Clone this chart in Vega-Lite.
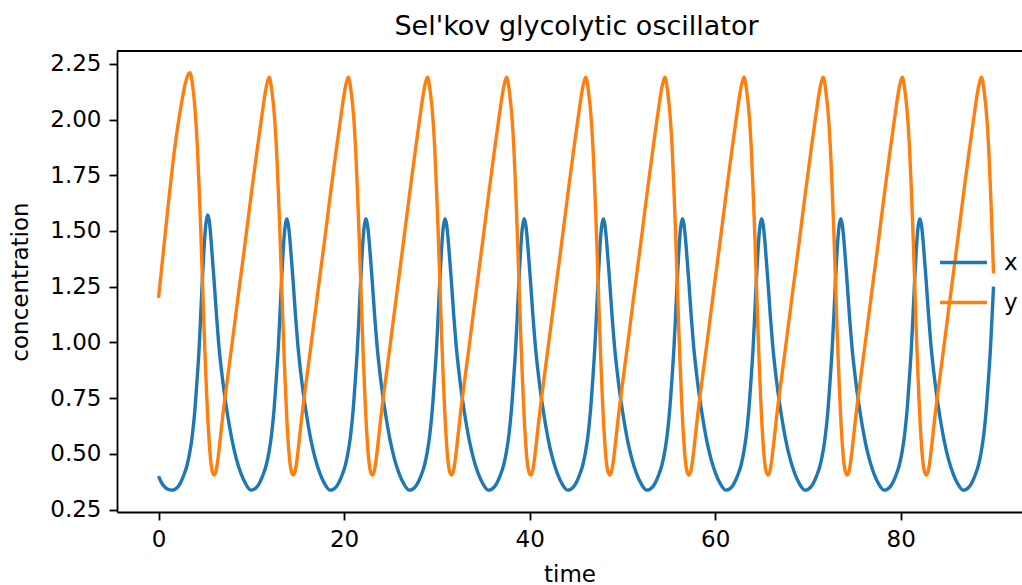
{
"$schema": "https://vega.github.io/schema/vega-lite/v6.json",
"width": 905, "height": 461,
"autosize": {"type": "none"},
"padding": {"left": 117, "top": 51, "right": 0, "bottom": 73},
"title": {"text": "Sel'kov glycolytic oscillator", "font": "DejaVu Sans", "fontSize": 27, "fontWeight": "normal", "color": "#000", "anchor": "middle", "dx": 7, "offset": 9},
"datasets": {
"xs": [
{"t":0,"v":0.40},{"t":0.3,"v":0.372},{"t":0.7,"v":0.35},{"t":1.0,"v":0.341},
{"t":1.44,"v":0.337},{"t":2.08,"v":0.352},{"t":2.68,"v":0.40},{"t":3.08,"v":0.45},{"t":3.38,"v":0.51},{"t":3.63,"v":0.58},{"t":3.88,"v":0.68},{"t":4.13,"v":0.82},{"t":4.38,"v":0.98},{"t":4.56,"v":1.14},{"t":4.73,"v":1.29},{"t":4.9,"v":1.42},{"t":5.08,"v":1.525},{"t":5.28,"v":1.572},{"t":5.45,"v":1.55},{"t":5.63,"v":1.475},{"t":5.78,"v":1.39},{"t":5.98,"v":1.28},{"t":6.23,"v":1.13},{"t":6.48,"v":0.995},{"t":6.78,"v":0.875},{"t":7.08,"v":0.775},{"t":7.38,"v":0.69},{"t":7.88,"v":0.57},{"t":8.38,"v":0.478},{"t":8.88,"v":0.412},{"t":9.38,"v":0.366},
{"t":9.97,"v":0.337},{"t":10.61,"v":0.352},{"t":11.21,"v":0.40},{"t":11.61,"v":0.45},{"t":11.91,"v":0.51},{"t":12.16,"v":0.58},{"t":12.41,"v":0.68},{"t":12.66,"v":0.82},{"t":12.91,"v":0.98},{"t":13.09,"v":1.13},{"t":13.26,"v":1.28},{"t":13.43,"v":1.41},{"t":13.61,"v":1.51},{"t":13.81,"v":1.555},{"t":13.98,"v":1.53},{"t":14.16,"v":1.46},{"t":14.31,"v":1.38},{"t":14.51,"v":1.27},{"t":14.76,"v":1.12},{"t":15.01,"v":0.99},{"t":15.31,"v":0.87},{"t":15.61,"v":0.77},{"t":15.91,"v":0.685},{"t":16.41,"v":0.565},{"t":16.91,"v":0.475},{"t":17.41,"v":0.41},{"t":17.91,"v":0.365},
{"t":18.5,"v":0.337},{"t":19.14,"v":0.352},{"t":19.74,"v":0.40},{"t":20.14,"v":0.45},{"t":20.44,"v":0.51},{"t":20.69,"v":0.58},{"t":20.94,"v":0.68},{"t":21.19,"v":0.82},{"t":21.44,"v":0.98},{"t":21.62,"v":1.13},{"t":21.79,"v":1.28},{"t":21.96,"v":1.41},{"t":22.14,"v":1.51},{"t":22.34,"v":1.555},{"t":22.51,"v":1.53},{"t":22.69,"v":1.46},{"t":22.84,"v":1.38},{"t":23.04,"v":1.27},{"t":23.29,"v":1.12},{"t":23.54,"v":0.99},{"t":23.84,"v":0.87},{"t":24.14,"v":0.77},{"t":24.44,"v":0.685},{"t":24.94,"v":0.565},{"t":25.44,"v":0.475},{"t":25.94,"v":0.41},{"t":26.44,"v":0.365},
{"t":27.03,"v":0.337},{"t":27.67,"v":0.352},{"t":28.27,"v":0.40},{"t":28.67,"v":0.45},{"t":28.97,"v":0.51},{"t":29.22,"v":0.58},{"t":29.47,"v":0.68},{"t":29.72,"v":0.82},{"t":29.97,"v":0.98},{"t":30.15,"v":1.13},{"t":30.32,"v":1.28},{"t":30.49,"v":1.41},{"t":30.67,"v":1.51},{"t":30.87,"v":1.555},{"t":31.04,"v":1.53},{"t":31.22,"v":1.46},{"t":31.37,"v":1.38},{"t":31.57,"v":1.27},{"t":31.82,"v":1.12},{"t":32.07,"v":0.99},{"t":32.37,"v":0.87},{"t":32.67,"v":0.77},{"t":32.97,"v":0.685},{"t":33.47,"v":0.565},{"t":33.97,"v":0.475},{"t":34.47,"v":0.41},{"t":34.97,"v":0.365},
{"t":35.56,"v":0.337},{"t":36.2,"v":0.352},{"t":36.8,"v":0.40},{"t":37.2,"v":0.45},{"t":37.5,"v":0.51},{"t":37.75,"v":0.58},{"t":38.0,"v":0.68},{"t":38.25,"v":0.82},{"t":38.5,"v":0.98},{"t":38.68,"v":1.13},{"t":38.85,"v":1.28},{"t":39.02,"v":1.41},{"t":39.2,"v":1.51},{"t":39.4,"v":1.555},{"t":39.57,"v":1.53},{"t":39.75,"v":1.46},{"t":39.9,"v":1.38},{"t":40.1,"v":1.27},{"t":40.35,"v":1.12},{"t":40.6,"v":0.99},{"t":40.9,"v":0.87},{"t":41.2,"v":0.77},{"t":41.5,"v":0.685},{"t":42.0,"v":0.565},{"t":42.5,"v":0.475},{"t":43.0,"v":0.41},{"t":43.5,"v":0.365},
{"t":44.09,"v":0.337},{"t":44.73,"v":0.352},{"t":45.33,"v":0.40},{"t":45.73,"v":0.45},{"t":46.03,"v":0.51},{"t":46.28,"v":0.58},{"t":46.53,"v":0.68},{"t":46.78,"v":0.82},{"t":47.03,"v":0.98},{"t":47.21,"v":1.13},{"t":47.38,"v":1.28},{"t":47.55,"v":1.41},{"t":47.73,"v":1.51},{"t":47.93,"v":1.555},{"t":48.1,"v":1.53},{"t":48.28,"v":1.46},{"t":48.43,"v":1.38},{"t":48.63,"v":1.27},{"t":48.88,"v":1.12},{"t":49.13,"v":0.99},{"t":49.43,"v":0.87},{"t":49.73,"v":0.77},{"t":50.03,"v":0.685},{"t":50.53,"v":0.565},{"t":51.03,"v":0.475},{"t":51.53,"v":0.41},{"t":52.03,"v":0.365},
{"t":52.62,"v":0.337},{"t":53.26,"v":0.352},{"t":53.86,"v":0.40},{"t":54.26,"v":0.45},{"t":54.56,"v":0.51},{"t":54.81,"v":0.58},{"t":55.06,"v":0.68},{"t":55.31,"v":0.82},{"t":55.56,"v":0.98},{"t":55.74,"v":1.13},{"t":55.91,"v":1.28},{"t":56.08,"v":1.41},{"t":56.26,"v":1.51},{"t":56.46,"v":1.555},{"t":56.63,"v":1.53},{"t":56.81,"v":1.46},{"t":56.96,"v":1.38},{"t":57.16,"v":1.27},{"t":57.41,"v":1.12},{"t":57.66,"v":0.99},{"t":57.96,"v":0.87},{"t":58.26,"v":0.77},{"t":58.56,"v":0.685},{"t":59.06,"v":0.565},{"t":59.56,"v":0.475},{"t":60.06,"v":0.41},{"t":60.56,"v":0.365},
{"t":61.15,"v":0.337},{"t":61.79,"v":0.352},{"t":62.39,"v":0.40},{"t":62.79,"v":0.45},{"t":63.09,"v":0.51},{"t":63.34,"v":0.58},{"t":63.59,"v":0.68},{"t":63.84,"v":0.82},{"t":64.09,"v":0.98},{"t":64.27,"v":1.13},{"t":64.44,"v":1.28},{"t":64.61,"v":1.41},{"t":64.79,"v":1.51},{"t":64.99,"v":1.555},{"t":65.16,"v":1.53},{"t":65.34,"v":1.46},{"t":65.49,"v":1.38},{"t":65.69,"v":1.27},{"t":65.94,"v":1.12},{"t":66.19,"v":0.99},{"t":66.49,"v":0.87},{"t":66.79,"v":0.77},{"t":67.09,"v":0.685},{"t":67.59,"v":0.565},{"t":68.09,"v":0.475},{"t":68.59,"v":0.41},{"t":69.09,"v":0.365},
{"t":69.68,"v":0.337},{"t":70.32,"v":0.352},{"t":70.92,"v":0.40},{"t":71.32,"v":0.45},{"t":71.62,"v":0.51},{"t":71.87,"v":0.58},{"t":72.12,"v":0.68},{"t":72.37,"v":0.82},{"t":72.62,"v":0.98},{"t":72.8,"v":1.13},{"t":72.97,"v":1.28},{"t":73.14,"v":1.41},{"t":73.32,"v":1.51},{"t":73.52,"v":1.555},{"t":73.69,"v":1.53},{"t":73.87,"v":1.46},{"t":74.02,"v":1.38},{"t":74.22,"v":1.27},{"t":74.47,"v":1.12},{"t":74.72,"v":0.99},{"t":75.02,"v":0.87},{"t":75.32,"v":0.77},{"t":75.62,"v":0.685},{"t":76.12,"v":0.565},{"t":76.62,"v":0.475},{"t":77.12,"v":0.41},{"t":77.62,"v":0.365},
{"t":78.21,"v":0.337},{"t":78.85,"v":0.352},{"t":79.45,"v":0.40},{"t":79.85,"v":0.45},{"t":80.15,"v":0.51},{"t":80.4,"v":0.58},{"t":80.65,"v":0.68},{"t":80.9,"v":0.82},{"t":81.15,"v":0.98},{"t":81.33,"v":1.13},{"t":81.5,"v":1.28},{"t":81.67,"v":1.41},{"t":81.85,"v":1.51},{"t":82.05,"v":1.555},{"t":82.22,"v":1.53},{"t":82.4,"v":1.46},{"t":82.55,"v":1.38},{"t":82.75,"v":1.27},{"t":83.0,"v":1.12},{"t":83.25,"v":0.99},{"t":83.55,"v":0.87},{"t":83.85,"v":0.77},{"t":84.15,"v":0.685},{"t":84.65,"v":0.565},{"t":85.15,"v":0.475},{"t":85.65,"v":0.41},{"t":86.15,"v":0.365},
{"t":86.74,"v":0.337},{"t":87.38,"v":0.352},{"t":87.98,"v":0.40},{"t":88.38,"v":0.45},{"t":88.68,"v":0.51},{"t":88.93,"v":0.58},{"t":89.18,"v":0.68},{"t":89.43,"v":0.82},{"t":89.68,"v":0.98},{"t":89.86,"v":1.13},{"t":90.0,"v":1.25}
],
"ys": [
{"t":0,"v":1.2},{"t":0.5,"v":1.40},{"t":1.0,"v":1.60},{"t":1.5,"v":1.79},{"t":2.0,"v":1.95},{"t":2.5,"v":2.08},{"t":2.9,"v":2.165},{"t":3.15,"v":2.198},{"t":3.38,"v":2.21},{"t":3.68,"v":2.15},{"t":4.01,"v":2.0},{"t":4.18,"v":1.88},{"t":4.37,"v":1.70},{"t":4.56,"v":1.49},{"t":4.73,"v":1.28},{"t":4.88,"v":1.09},{"t":5.03,"v":0.92},{"t":5.18,"v":0.77},{"t":5.33,"v":0.64},{"t":5.48,"v":0.54},{"t":5.63,"v":0.465},{"t":5.83,"v":0.415},{"t":6.0,"v":0.405},{"t":6.18,"v":0.42},{"t":6.38,"v":0.47},{"t":6.63,"v":0.56},{"t":6.92,"v":0.67},{"t":7.28,"v":0.79},{"t":7.88,"v":0.98},{"t":8.68,"v":1.24},{"t":9.28,"v":1.43},{"t":10.04,"v":1.68},{"t":10.58,"v":1.85},{"t":11.01,"v":1.98},{"t":11.28,"v":2.06},{"t":11.58,"v":2.14},{"t":11.78,"v":2.175},
{"t":11.93,"v":2.19},{"t":12.21,"v":2.13},{"t":12.54,"v":1.99},{"t":12.71,"v":1.87},{"t":12.9,"v":1.69},{"t":13.09,"v":1.48},{"t":13.26,"v":1.27},{"t":13.41,"v":1.08},{"t":13.56,"v":0.91},{"t":13.71,"v":0.76},{"t":13.86,"v":0.63},{"t":14.01,"v":0.53},{"t":14.16,"v":0.46},{"t":14.36,"v":0.415},{"t":14.53,"v":0.405},{"t":14.71,"v":0.42},{"t":14.91,"v":0.47},{"t":15.16,"v":0.56},{"t":15.45,"v":0.67},{"t":15.81,"v":0.79},{"t":16.41,"v":0.98},{"t":17.21,"v":1.24},{"t":17.81,"v":1.43},{"t":18.57,"v":1.68},{"t":19.11,"v":1.85},{"t":19.54,"v":1.98},{"t":19.81,"v":2.06},{"t":20.11,"v":2.14},{"t":20.31,"v":2.175},
{"t":20.46,"v":2.19},{"t":20.74,"v":2.13},{"t":21.07,"v":1.99},{"t":21.24,"v":1.87},{"t":21.43,"v":1.69},{"t":21.62,"v":1.48},{"t":21.79,"v":1.27},{"t":21.94,"v":1.08},{"t":22.09,"v":0.91},{"t":22.24,"v":0.76},{"t":22.39,"v":0.63},{"t":22.54,"v":0.53},{"t":22.69,"v":0.46},{"t":22.89,"v":0.415},{"t":23.06,"v":0.405},{"t":23.24,"v":0.42},{"t":23.44,"v":0.47},{"t":23.69,"v":0.56},{"t":23.98,"v":0.67},{"t":24.34,"v":0.79},{"t":24.94,"v":0.98},{"t":25.74,"v":1.24},{"t":26.34,"v":1.43},{"t":27.1,"v":1.68},{"t":27.64,"v":1.85},{"t":28.07,"v":1.98},{"t":28.34,"v":2.06},{"t":28.64,"v":2.14},{"t":28.84,"v":2.175},
{"t":28.99,"v":2.19},{"t":29.27,"v":2.13},{"t":29.6,"v":1.99},{"t":29.77,"v":1.87},{"t":29.96,"v":1.69},{"t":30.15,"v":1.48},{"t":30.32,"v":1.27},{"t":30.47,"v":1.08},{"t":30.62,"v":0.91},{"t":30.77,"v":0.76},{"t":30.92,"v":0.63},{"t":31.07,"v":0.53},{"t":31.22,"v":0.46},{"t":31.42,"v":0.415},{"t":31.59,"v":0.405},{"t":31.77,"v":0.42},{"t":31.97,"v":0.47},{"t":32.22,"v":0.56},{"t":32.51,"v":0.67},{"t":32.87,"v":0.79},{"t":33.47,"v":0.98},{"t":34.27,"v":1.24},{"t":34.87,"v":1.43},{"t":35.63,"v":1.68},{"t":36.17,"v":1.85},{"t":36.6,"v":1.98},{"t":36.87,"v":2.06},{"t":37.17,"v":2.14},{"t":37.37,"v":2.175},
{"t":37.52,"v":2.19},{"t":37.8,"v":2.13},{"t":38.13,"v":1.99},{"t":38.3,"v":1.87},{"t":38.49,"v":1.69},{"t":38.68,"v":1.48},{"t":38.85,"v":1.27},{"t":39.0,"v":1.08},{"t":39.15,"v":0.91},{"t":39.3,"v":0.76},{"t":39.45,"v":0.63},{"t":39.6,"v":0.53},{"t":39.75,"v":0.46},{"t":39.95,"v":0.415},{"t":40.12,"v":0.405},{"t":40.3,"v":0.42},{"t":40.5,"v":0.47},{"t":40.75,"v":0.56},{"t":41.04,"v":0.67},{"t":41.4,"v":0.79},{"t":42.0,"v":0.98},{"t":42.8,"v":1.24},{"t":43.4,"v":1.43},{"t":44.16,"v":1.68},{"t":44.7,"v":1.85},{"t":45.13,"v":1.98},{"t":45.4,"v":2.06},{"t":45.7,"v":2.14},{"t":45.9,"v":2.175},
{"t":46.05,"v":2.19},{"t":46.33,"v":2.13},{"t":46.66,"v":1.99},{"t":46.83,"v":1.87},{"t":47.02,"v":1.69},{"t":47.21,"v":1.48},{"t":47.38,"v":1.27},{"t":47.53,"v":1.08},{"t":47.68,"v":0.91},{"t":47.83,"v":0.76},{"t":47.98,"v":0.63},{"t":48.13,"v":0.53},{"t":48.28,"v":0.46},{"t":48.48,"v":0.415},{"t":48.65,"v":0.405},{"t":48.83,"v":0.42},{"t":49.03,"v":0.47},{"t":49.28,"v":0.56},{"t":49.57,"v":0.67},{"t":49.93,"v":0.79},{"t":50.53,"v":0.98},{"t":51.33,"v":1.24},{"t":51.93,"v":1.43},{"t":52.69,"v":1.68},{"t":53.23,"v":1.85},{"t":53.66,"v":1.98},{"t":53.93,"v":2.06},{"t":54.23,"v":2.14},{"t":54.43,"v":2.175},
{"t":54.58,"v":2.19},{"t":54.86,"v":2.13},{"t":55.19,"v":1.99},{"t":55.36,"v":1.87},{"t":55.55,"v":1.69},{"t":55.74,"v":1.48},{"t":55.91,"v":1.27},{"t":56.06,"v":1.08},{"t":56.21,"v":0.91},{"t":56.36,"v":0.76},{"t":56.51,"v":0.63},{"t":56.66,"v":0.53},{"t":56.81,"v":0.46},{"t":57.01,"v":0.415},{"t":57.18,"v":0.405},{"t":57.36,"v":0.42},{"t":57.56,"v":0.47},{"t":57.81,"v":0.56},{"t":58.1,"v":0.67},{"t":58.46,"v":0.79},{"t":59.06,"v":0.98},{"t":59.86,"v":1.24},{"t":60.46,"v":1.43},{"t":61.22,"v":1.68},{"t":61.76,"v":1.85},{"t":62.19,"v":1.98},{"t":62.46,"v":2.06},{"t":62.76,"v":2.14},{"t":62.96,"v":2.175},
{"t":63.11,"v":2.19},{"t":63.39,"v":2.13},{"t":63.72,"v":1.99},{"t":63.89,"v":1.87},{"t":64.08,"v":1.69},{"t":64.27,"v":1.48},{"t":64.44,"v":1.27},{"t":64.59,"v":1.08},{"t":64.74,"v":0.91},{"t":64.89,"v":0.76},{"t":65.04,"v":0.63},{"t":65.19,"v":0.53},{"t":65.34,"v":0.46},{"t":65.54,"v":0.415},{"t":65.71,"v":0.405},{"t":65.89,"v":0.42},{"t":66.09,"v":0.47},{"t":66.34,"v":0.56},{"t":66.63,"v":0.67},{"t":66.99,"v":0.79},{"t":67.59,"v":0.98},{"t":68.39,"v":1.24},{"t":68.99,"v":1.43},{"t":69.75,"v":1.68},{"t":70.29,"v":1.85},{"t":70.72,"v":1.98},{"t":70.99,"v":2.06},{"t":71.29,"v":2.14},{"t":71.49,"v":2.175},
{"t":71.64,"v":2.19},{"t":71.92,"v":2.13},{"t":72.25,"v":1.99},{"t":72.42,"v":1.87},{"t":72.61,"v":1.69},{"t":72.8,"v":1.48},{"t":72.97,"v":1.27},{"t":73.12,"v":1.08},{"t":73.27,"v":0.91},{"t":73.42,"v":0.76},{"t":73.57,"v":0.63},{"t":73.72,"v":0.53},{"t":73.87,"v":0.46},{"t":74.07,"v":0.415},{"t":74.24,"v":0.405},{"t":74.42,"v":0.42},{"t":74.62,"v":0.47},{"t":74.87,"v":0.56},{"t":75.16,"v":0.67},{"t":75.52,"v":0.79},{"t":76.12,"v":0.98},{"t":76.92,"v":1.24},{"t":77.52,"v":1.43},{"t":78.28,"v":1.68},{"t":78.82,"v":1.85},{"t":79.25,"v":1.98},{"t":79.52,"v":2.06},{"t":79.82,"v":2.14},{"t":80.02,"v":2.175},
{"t":80.17,"v":2.19},{"t":80.45,"v":2.13},{"t":80.78,"v":1.99},{"t":80.95,"v":1.87},{"t":81.14,"v":1.69},{"t":81.33,"v":1.48},{"t":81.5,"v":1.27},{"t":81.65,"v":1.08},{"t":81.8,"v":0.91},{"t":81.95,"v":0.76},{"t":82.1,"v":0.63},{"t":82.25,"v":0.53},{"t":82.4,"v":0.46},{"t":82.6,"v":0.415},{"t":82.77,"v":0.405},{"t":82.95,"v":0.42},{"t":83.15,"v":0.47},{"t":83.4,"v":0.56},{"t":83.69,"v":0.67},{"t":84.05,"v":0.79},{"t":84.65,"v":0.98},{"t":85.45,"v":1.24},{"t":86.05,"v":1.43},{"t":86.81,"v":1.68},{"t":87.35,"v":1.85},{"t":87.78,"v":1.98},{"t":88.05,"v":2.06},{"t":88.35,"v":2.14},{"t":88.55,"v":2.175},
{"t":88.7,"v":2.19},{"t":88.98,"v":2.13},{"t":89.31,"v":1.99},{"t":89.48,"v":1.87},{"t":89.67,"v":1.69},{"t":89.86,"v":1.48},{"t":90.0,"v":1.31}
],
"frame": [{"top": 2.3075}]
},
"layer": [
{
"data": {"name": "xs"},
"mark": {"type": "line", "interpolate": "monotone", "strokeWidth": 3.4},
"encoding": {
"x": {"field": "t", "type": "quantitative", "scale": {"domain": [-4.48, 93.07], "nice": false, "zero": false},
"axis": {"orient": "bottom", "values": [0, 20, 40, 60, 80], "title": "time", "titlePadding": 12}},
"y": {"field": "v", "type": "quantitative", "scale": {"domain": [0.239, 2.3075], "nice": false, "zero": false},
"axis": {"values": [0.25, 0.5, 0.75, 1.0, 1.25, 1.5, 1.75, 2.0, 2.25], "format": ".2f", "title": "concentration", "titlePadding": 17}},
"color": {"datum": "x", "type": "nominal", "scale": {"domain": ["x", "y"], "range": ["#1f77b4", "#ff7f0e"]},
"legend": {"title": null, "orient": "none", "legendX": 821, "legendY": 186, "symbolType": "stroke", "symbolSize": 2200, "symbolStrokeWidth": 3.4, "labelFontSize": 23, "labelFont": "DejaVu Sans", "labelColor": "#000", "labelOffset": 15, "padding": 0}}
}
},
{
"data": {"name": "ys"},
"mark": {"type": "line", "interpolate": "monotone", "strokeWidth": 3.4},
"encoding": {
"x": {"field": "t", "type": "quantitative"},
"y": {"field": "v", "type": "quantitative"},
"color": {"datum": "y", "type": "nominal"}
}
},
{
"data": {"name": "frame"},
"mark": {"type": "rule", "color": "#000", "strokeWidth": 1.8},
"encoding": {
"y": {"field": "top", "type": "quantitative"}
}
}
],
"config": {
"view": {"stroke": null},
"font": "DejaVu Sans",
"axis": {"labelFont": "DejaVu Sans", "labelFontSize": 23, "labelColor": "#000", "tickColor": "#000", "tickSize": 8, "tickWidth": 1.8, "domainColor": "#000", "domainWidth": 1.8, "labelPadding": 8, "grid": false, "titleFont": "DejaVu Sans", "titleFontSize": 23, "titleFontWeight": "normal", "titleColor": "#000"}
}
}
